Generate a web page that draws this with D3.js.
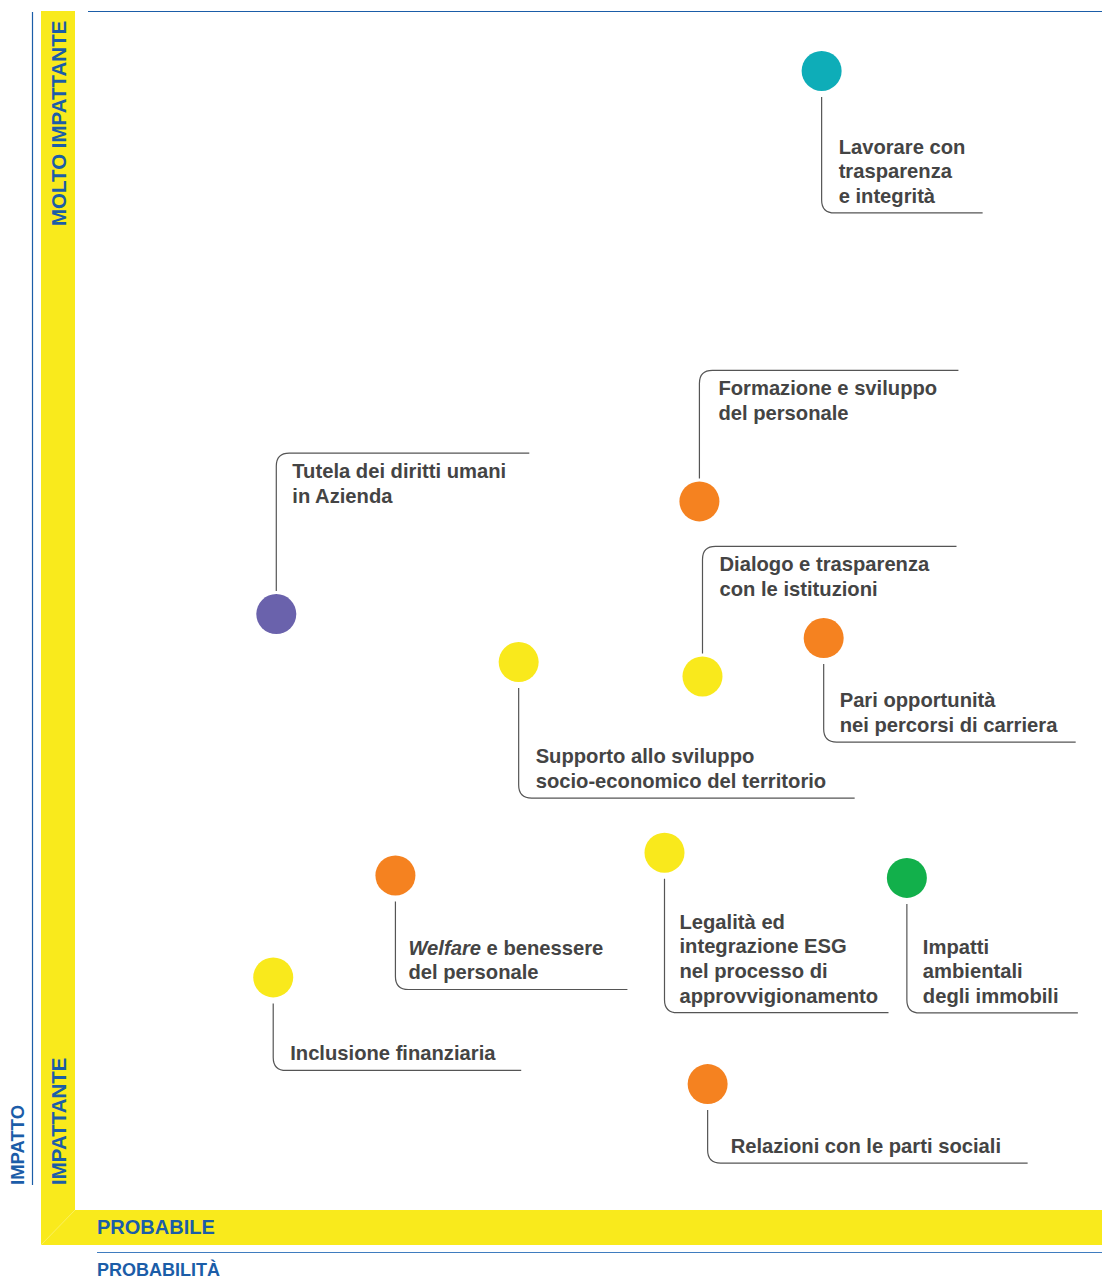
<!DOCTYPE html>
<html>
<head>
<meta charset="utf-8">
<script src="https://cdn.jsdelivr.net/npm/d3@7"></script>
<style>
  body { margin: 0; background: #fff; }
  svg { display: block; font-family: "Liberation Sans", Arial, sans-serif; }
</style>
</head>
<body>
<div id="chart"></div>
<script>
// topics (materiality matrix): probability on x, impact on y (0-10)
const topics = [
  "Lavorare con trasparenza e integrità",
  "Formazione e sviluppo del personale",
  "Tutela dei diritti umani in Azienda",
  "Dialogo e trasparenza con le istituzioni",
  "Pari opportunità nei percorsi di carriera",
  "Supporto allo sviluppo socio-economico del territorio",
  "Welfare e benessere del personale",
  "Legalità ed integrazione ESG nel processo di approvvigionamento",
  "Impatti ambientali degli immobili",
  "Inclusione finanziaria",
  "Relazioni con le parti sociali"
];
const probability = [7.27, 6.08, 1.96, 6.11, 7.29, 4.32, 3.12, 5.74, 8.10, 1.93, 6.16];
const impact      = [9.50, 5.91, 4.97, 4.45, 4.77, 4.57, 2.79, 2.98, 2.77, 1.94, 1.05];
const group       = ["gov", "hr", "rights", "comm", "hr", "comm", "hr", "comm", "env", "comm", "hr"];

// label text split in lines (first segment of "Welfare" is italic)
const labelLines = [
  ["Lavorare con", "trasparenza", "e integrità"],
  ["Formazione e sviluppo", "del personale"],
  ["Tutela dei diritti umani", "in Azienda"],
  ["Dialogo e trasparenza", "con le istituzioni"],
  ["Pari opportunità", "nei percorsi di carriera"],
  ["Supporto allo sviluppo", "socio-economico del territorio"],
  ["Welfare| e benessere", "del personale"],
  ["Legalità ed", "integrazione ESG", "nel processo di", "approvvigionamento"],
  ["Impatti", "ambientali", "degli immobili"],
  ["Inclusione finanziaria"],
  ["Relazioni con le parti sociali"]
];

// callout layout: dir, elbow offset from dot, horizontal length, text indent
const callouts = [
  {dir: "down", elbow: 142, len: 161, indent: 17},
  {dir: "up",   elbow: -131, len: 259, indent: 19},
  {dir: "up",   elbow: -161, len: 253, indent: 16},
  {dir: "up",   elbow: -130, len: 254, indent: 17},
  {dir: "down", elbow: 104, len: 252, indent: 16},
  {dir: "down", elbow: 136, len: 336, indent: 17},
  {dir: "down", elbow: 114, len: 232, indent: 13},
  {dir: "down", elbow: 160, len: 224, indent: 15},
  {dir: "down", elbow: 135, len: 171, indent: 16},
  {dir: "down", elbow: 93,  len: 248, indent: 17},
  {dir: "down", elbow: 79,  len: 320, indent: 23}
];

const colorMap = {gov: "#0eadb8", hr: "#f58220", rights: "#6a62ac", comm: "#f9e91c", env: "#12b04b"};

const W = 1102, H = 1279;
const blue = "#1b5da8", yellow = "#f9ea1c", ink = "#444";

const svg = d3.select("#chart").append("svg")
  .attr("width", W).attr("height", H);

// frame: yellow L band
svg.append("path")
  .attr("d", "M41,11 L75,11 L75,1210 L1102,1210 L1102,1245 L41,1245 Z")
  .attr("fill", yellow);
svg.append("line")
  .attr("x1", 41).attr("y1", 1245).attr("x2", 75).attr("y2", 1210)
  .attr("stroke", "#fff").attr("stroke-width", 0.6).attr("opacity", 0.5);

// blue rules
svg.append("line").attr("x1", 88).attr("y1", 11.5).attr("x2", W).attr("y2", 11.5)
  .attr("stroke", blue).attr("stroke-width", 1.2);
svg.append("line").attr("x1", 32.5).attr("y1", 12).attr("x2", 32.5).attr("y2", 1185)
  .attr("stroke", blue).attr("stroke-width", 1.2);
svg.append("line").attr("x1", 97).attr("y1", 1252.5).attr("x2", W).attr("y2", 1252.5)
  .attr("stroke", "#3f7cbf").attr("stroke-width", 1);

const axisText = (x, y, txt, rot, size) => {
  svg.append("text")
    .attr("transform", `translate(${x},${y})` + (rot ? " rotate(-90)" : ""))
    .attr("fill", blue)
    .style("font-size", size + "px").style("font-weight", "bold")
    .text(txt);
};
axisText(66, 226, "MOLTO IMPATTANTE", true, 20.5);
axisText(66, 1185, "IMPATTANTE", true, 20.5);
axisText(24, 1185, "IMPATTO", true, 18.5);
axisText(97, 1234, "PROBABILE", false, 20);
axisText(97, 1276, "PROBABILITÀ", false, 18);

// scales
const x = d3.scaleLinear().domain([0, 10]).range([75, 1102]);
const y = d3.scaleLinear().domain([0, 10]).range([1210, 11]);

const r = 20, cr = 13;
const data = topics.map((t, i) => ({
  name: t, px: probability[i], py: impact[i], g: group[i],
  lines: labelLines[i], c: callouts[i]
}));

const g = svg.append("g");

data.forEach(d => {
  const cx = x(d.px), cy = y(d.py);
  const ey = cy + d.c.elbow;
  const ex = cx + d.c.len;
  let path;
  if (d.c.dir === "down") {
    path = `M${cx},${cy + r + 6} L${cx},${ey - cr} Q${cx},${ey} ${cx + cr},${ey} L${ex},${ey}`;
  } else {
    path = `M${cx},${cy - r - 3} L${cx},${ey + cr} Q${cx},${ey} ${cx + cr},${ey} L${ex},${ey}`;
  }
  g.append("path").attr("d", path)
    .attr("fill", "none").attr("stroke", "#555").attr("stroke-width", 1.2);

  g.append("circle").attr("cx", cx).attr("cy", cy).attr("r", r)
    .attr("fill", colorMap[d.g]);

  const lh = 24.6;
  const n = d.lines.length;
  const firstBase = d.c.dir === "down" ? ey - 10 - (n - 1) * lh : ey + 25;
  const txt = g.append("text")
    .attr("x", cx + d.c.indent)
    .attr("y", firstBase)
    .attr("fill", ink)
    .style("font-size", "20.2px").style("font-weight", "bold");
  d.lines.forEach((line, k) => {
    const parts = line.split("|");
    if (parts.length > 1) {
      txt.append("tspan").attr("x", cx + d.c.indent).attr("dy", k === 0 ? 0 : lh)
        .style("font-style", "italic").text(parts[0]);
      txt.append("tspan").text(parts[1]);
    } else {
      txt.append("tspan").attr("x", cx + d.c.indent).attr("dy", k === 0 ? 0 : lh).text(line);
    }
  });
});
</script>
</body>
</html>
